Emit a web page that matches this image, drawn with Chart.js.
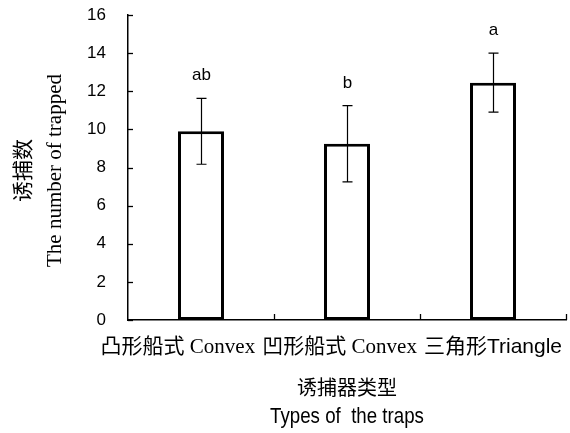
<!DOCTYPE html>
<html>
<head>
<meta charset="utf-8">
<script src="https://cdn.jsdelivr.net/npm/chart.js@4/dist/chart.umd.min.js"></script>
<style>
  html, body { margin: 0; padding: 0; background: #fff; }
  #wrap { width: 570px; height: 433px; position: relative; }
</style>
</head>
<body>
<div id="wrap"><canvas id="c" width="570" height="433"></canvas></div>
<script>
// Trap types (x categories)
const categories = ['凸形船式 Convex', '凹形船式 Convex', '三角形Triangle'];
// Mean number trapped per trap type
const means = [9.9, 9.25, 12.45];
// Standard error for each mean
const errors = [1.73, 2.0, 1.55];
// Significance letters
const letters = ['ab', 'b', 'a'];
// Y axis ticks
const yMin = 0, yMax = 16, yStep = 2;

const yTitle = ['诱捕数', 'The number of trapped'];
const xTitle = ['诱捕器类型', 'Types of  the traps'];

const SERIF = "'Liberation Serif', 'Noto Sans CJK SC', serif";
const SANS = "'Liberation Sans', Arial, 'Noto Sans CJK SC', sans-serif";

// trailing spacing so the long category labels sit clear of each other
const labelTail = ['\u2003\u2003\u2009', '\u2002\u2009', ''];

const decorations = {
  id: 'decorations',
  afterDatasetsDraw(chart) {
    const ctx = chart.ctx;
    const x = chart.scales.x, y = chart.scales.y;
    const area = chart.chartArea;
    ctx.save();
    ctx.strokeStyle = '#000';
    ctx.fillStyle = '#000';

    // inward tick marks on the value axis
    ctx.lineWidth = 1.3;
    y.ticks.forEach((t, i) => {
      const py = Math.round(y.getPixelForTick(i)) + 0.5;
      ctx.beginPath();
      ctx.moveTo(area.left, py);
      ctx.lineTo(area.left + 5, py);
      ctx.stroke();
    });
    // inward tick marks at category boundaries
    const n = categories.length;
    for (let i = 1; i <= n; i++) {
      const px = Math.round(x.getPixelForValue(i - 0.5)) + 0.5;
      ctx.beginPath();
      ctx.moveTo(px, area.bottom);
      ctx.lineTo(px, area.bottom - 6);
      ctx.stroke();
    }

    // error bars and letters
    ctx.lineWidth = 1.2;
    means.forEach((m, i) => {
      const cx = Math.round(x.getPixelForValue(i)) + 0.5;
      const top = y.getPixelForValue(m + errors[i]);
      const bot = y.getPixelForValue(m - errors[i]);
      ctx.beginPath();
      ctx.moveTo(cx, top); ctx.lineTo(cx, bot);
      ctx.moveTo(cx - 5, top); ctx.lineTo(cx + 5, top);
      ctx.moveTo(cx - 5, bot); ctx.lineTo(cx + 5, bot);
      ctx.stroke();

      ctx.font = '17px ' + SANS;
      ctx.textAlign = 'center';
      ctx.textBaseline = 'alphabetic';
      ctx.fillText(letters[i], cx, top - 18);
    });
    ctx.restore();
  },
  afterDraw(chart) {
    const ctx = chart.ctx;
    const area = chart.chartArea;
    ctx.save();
    ctx.fillStyle = '#000';
    // value axis title, rotated
    ctx.translate(0, (area.top + area.bottom) / 2 + 3);
    ctx.rotate(-Math.PI / 2);
    ctx.textAlign = 'center';
    ctx.textBaseline = 'middle';
    ctx.font = '21px ' + SERIF;
    ctx.fillText(yTitle[0], 0, 24);
    ctx.fillText(yTitle[1], 0, 55);
    ctx.restore();

    // category axis title: Chinese line, then a narrow English line
    ctx.save();
    ctx.fillStyle = '#000';
    ctx.textAlign = 'center';
    const cx = (area.left + area.right) / 2;
    ctx.textBaseline = 'middle';
    ctx.font = '20px ' + SERIF;
    ctx.fillText(xTitle[0], cx, area.bottom + 70);
    ctx.textBaseline = 'alphabetic';
    ctx.font = '22px ' + SANS;
    ctx.translate(cx, area.bottom + 103);
    ctx.scale(0.85, 1);
    ctx.fillText(xTitle[1], 0, 0);
    ctx.restore();
  }
};

new Chart(document.getElementById('c'), {
  type: 'bar',
  data: {
    labels: categories,
    datasets: [{
      data: means,
      backgroundColor: '#fff',
      borderColor: '#000',
      borderWidth: 3,
      borderSkipped: false,
      categoryPercentage: 1,
      barPercentage: 0.315
    }]
  },
  options: {
    responsive: false,
    animation: false,
    devicePixelRatio: 1,
    layout: { padding: { top: 15, right: 4, left: 0, bottom: 0 } },
    plugins: { legend: { display: false }, tooltip: { enabled: false } },
    scales: {
      x: {
        offset: true,
        // grid hidden; tickLength only spaces the labels off the axis
        grid: { display: false, drawTicks: true, tickLength: 12 },
        border: { display: true, color: '#000', width: 1.5 },
        ticks: {
          autoSkip: false,
          maxRotation: 0,
          minRotation: 0,
          padding: 3,
          color: '#000',
          callback: (v, i) => categories[i] + labelTail[i],
          font: (c) => ({ family: c.index === 2 ? SANS : SERIF, size: 21 })
        },
        afterFit: (s) => { s.height = 113; }
      },
      y: {
        min: yMin,
        max: yMax,
        grid: { display: false, drawTicks: true, tickLength: 18 },
        border: { display: true, color: '#000', width: 1.5 },
        ticks: {
          stepSize: yStep,
          padding: 4,
          color: '#000',
          font: { family: SANS, size: 17 }
        },
        afterFit: (s) => { s.width = 128; }
      }
    }
  },
  plugins: [decorations]
});
</script>
</body>
</html>
